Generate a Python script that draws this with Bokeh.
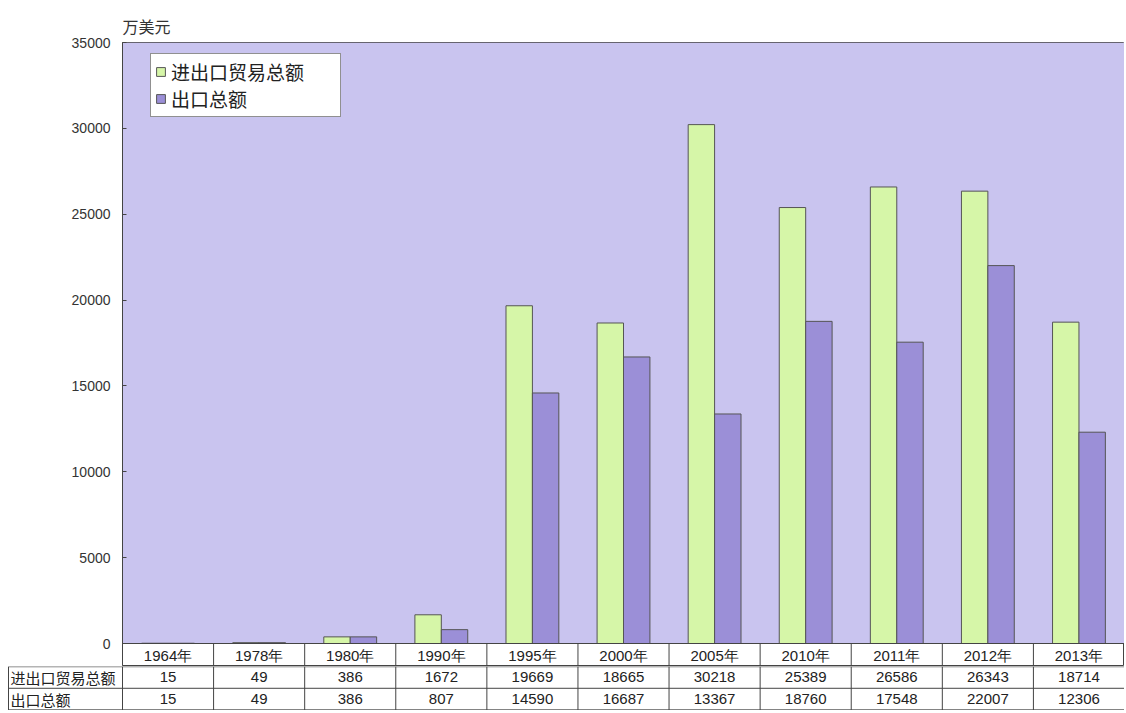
import numpy as np
from bokeh.plotting import figure
from bokeh.models import (Range1d, Legend, LegendItem, ColumnDataSource, FixedTicker,
                          BoxAnnotation)
from bokeh.layouts import column
from bokeh.core.properties import value
from bokeh.transform import dodge
from bokeh.embed import file_html
from bokeh.resources import INLINE

years = ["1964年", "1978年", "1980年", "1990年", "1995年", "2000年", "2005年", "2010年", "2011年", "2012年", "2013年"]
total = [15, 49, 386, 1672, 19669, 18665, 30218, 25389, 26586, 26343, 18714]
export = [15, 49, 386, 807, 14590, 16687, 13367, 18760, 17548, 22007, 12306]
series_names = ["进出口贸易总额", "出口总额"]
y_ticks = [0, 5000, 10000, 15000, 20000, 25000, 30000, 35000]
unit_label = "万美元"

BG = "#c9c4ef"
GREEN = "#d6f6a8"
PURPLE = "#9b8fd7"
LINE = "#444444"
CJK = "Noto Sans CJK SC"
NUM = "Liberation Sans"

n = len(years)
W = 1124
LEFT = 122          # frame left edge (px)
TOP = 42            # frame top (px)
CHART_H = 601       # plot area height from 35000 down to 0 (px)
HEAD_H = 23         # header row of the table (inside the chart figure)
ROWS_H = 44         # two data rows of the table
col_w = (W - LEFT) / n
bar_w = 0.29
YMAX = 35000

xc = np.arange(n) + 0.5
src = ColumnDataSource(dict(x=xc, total=total, export=export))

frame_h = CHART_H + HEAD_H
p = figure(width=W, height=TOP + frame_h, x_range=Range1d(0, n),
           y_range=Range1d(-YMAX * HEAD_H / CHART_H, YMAX),
           x_axis_location=None, output_backend="svg", toolbar_location=None,
           min_border_left=LEFT, min_border_right=0, min_border_top=TOP, min_border_bottom=0)
p.extra_y_ranges = {"head": Range1d(1, 1 - frame_h / HEAD_H)}
p.background_fill_color = "white"
p.border_fill_color = "white"
p.outline_line_color = LINE
p.xgrid.visible = False
p.ygrid.visible = False
p.add_layout(BoxAnnotation(bottom=0, fill_color=BG, fill_alpha=1.0, line_color=None, level="underlay"))

p.yaxis.ticker = FixedTicker(ticks=y_ticks)
p.yaxis.bounds = (0, YMAX)
p.yaxis.minor_tick_line_color = None
p.yaxis.major_tick_in = 4
p.yaxis.major_tick_out = 0
p.yaxis.axis_line_color = LINE
p.yaxis.major_tick_line_color = LINE
p.yaxis.major_label_text_font = NUM
p.yaxis.major_label_text_font_size = "14px"
p.yaxis.major_label_text_color = "#333333"
p.yaxis.major_label_standoff = 12

p.title.text = unit_label
p.title.align = "left"
p.title.text_font = CJK
p.title.text_font_size = "16px"
p.title.text_font_style = "normal"
p.title.text_color = "#333333"
p.title.standoff = 10

r1 = p.vbar(x=dodge("x", -bar_w / 2), top="total", width=bar_w, source=src, fill_color=GREEN,
            line_color="#555555", line_width=1)
r2 = p.vbar(x=dodge("x", bar_w / 2), top="export", width=bar_w, source=src, fill_color=PURPLE,
            line_color="#555555", line_width=1)

legend = Legend(items=[LegendItem(label=series_names[0], renderers=[r1]),
                       LegendItem(label=series_names[1], renderers=[r2])],
                location=(28, frame_h - 10 - 65))
legend.label_text_font = CJK
legend.label_text_font_size = "19px"
legend.label_text_color = "#222222"
legend.glyph_width = 11
legend.glyph_height = 11
legend.label_height = 22
legend.label_width = 165
legend.label_standoff = 5
legend.spacing = 0
legend.padding = 4
legend.margin = 0
legend.border_line_color = "#222222"
legend.background_fill_color = "white"
legend.background_fill_alpha = 1.0
p.add_layout(legend)

# header row of the table (years) inside the chart figure, under the 0 line
hsrc = ColumnDataSource(dict(x=xc, years=years))
p.segment(x0=[0], y0=[0], x1=[n], y1=[0], y_range_name="head", line_color=LINE)
vx = list(range(n + 1))
p.segment(x0=vx, y0=[0] * (n + 1), x1=vx, y1=[1] * (n + 1), y_range_name="head", line_color=LINE)
p.text(x="x", y=0.5, text="years", source=hsrc, y_range_name="head",
       text_baseline="middle", text_align="center", text_color="#222222",
       text_font_size="15px", text_font=value(NUM))

# data rows of the table
xl = -LEFT / col_w
t = figure(width=W, height=ROWS_H, x_range=Range1d(xl, n), y_range=Range1d(2.02, 0),
           x_axis_location=None, y_axis_location=None, output_backend="svg",
           toolbar_location=None, min_border=0)
t.outline_line_color = None
t.xgrid.visible = False
t.ygrid.visible = False
t.background_fill_color = "white"
t.border_fill_color = "white"

for f in (p, t):
    if "frame_align" in f.properties():
        f.frame_align = False

x_edge = xl + 8 / col_w
hy = [0.01, 1, 1.99]
t.segment(x0=[x_edge] * 3, y0=hy, x1=[n] * 3, y1=hy, line_color=LINE, line_width=1)
tvx = list(range(n + 1)) + [x_edge]
t.segment(x0=tvx, y0=[0] * (n + 2), x1=tvx, y1=[2.02] * (n + 2), line_color=LINE, line_width=1)

tsrc = ColumnDataSource(dict(x=xc, total_s=[str(v) for v in total],
                             export_s=[str(v) for v in export]))
common = dict(text_baseline="middle", text_align="center", text_color="#222222", text_font_size="15px")
t.text(x="x", y=0.5, text="total_s", source=tsrc, text_font=value(NUM), **common)
t.text(x="x", y=1.5, text="export_s", source=tsrc, text_font=value(NUM), **common)
t.text(x=[x_edge + 2 / col_w] * 2, y=[0.5, 1.5], text=series_names,
       text_baseline="middle", text_align="left", text_color="#222222",
       text_font_size="15px", text_font=value(CJK))

layout = column(p, t, spacing=0)
open("out.html", "w").write(file_html(layout, INLINE))
